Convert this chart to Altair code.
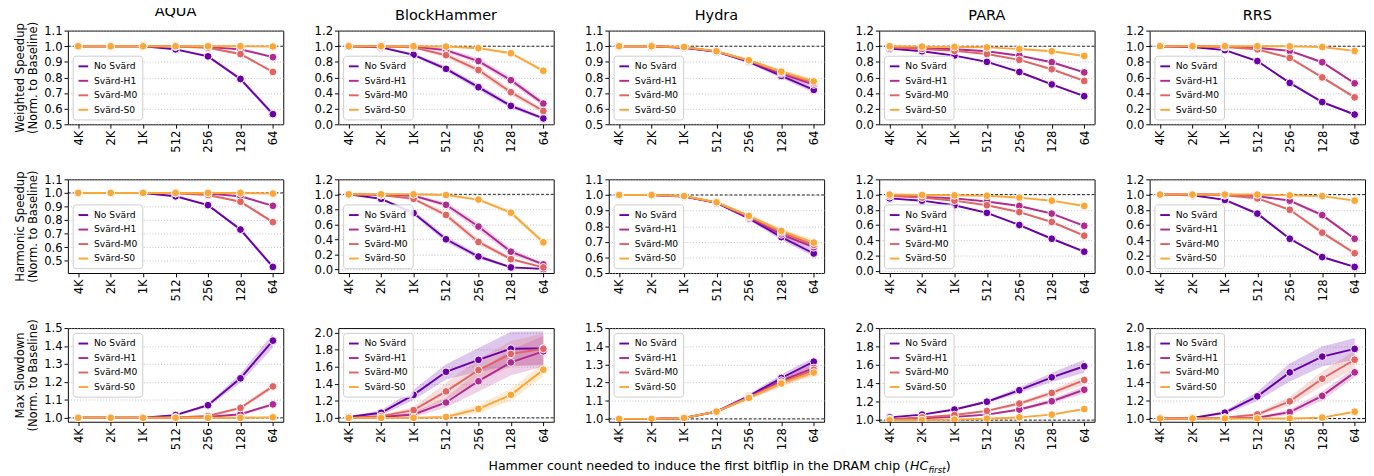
import altair as alt
import pandas as pd

mechanisms = ["AQUA", "BlockHammer", "Hydra", "PARA", "RRS"]
configs = ["No Svärd", "Svärd-H1", "Svärd-M0", "Svärd-S0"]
hc_labels = ["4K", "2K", "1K", "512", "256", "128", "64"]
colors = ["#6a00a8", "#b12a90", "#e16462", "#fca636"]

metric_titles = [
    ["Weighted Speedup", "(Norm. to Baseline)"],
    ["Harmonic Speedup", "(Norm. to Baseline)"],
    ["Max Slowdown", "(Norm. to Baseline)"],
]
xtitle_parts = ["Hammer count needed to induce the first bitflip in the DRAM chip (", "HC", "first", ")"]

# ---- Weighted speedup (series order: No Svärd, H1, M0, S0) ----
ws = {
    "AQUA": [[1.0, 1.0, 1.0, 0.98, 0.935, 0.79, 0.565],
             [1.0, 1.0, 1.0, 1.0, 0.995, 0.98, 0.93],
             [1.0, 1.0, 1.0, 0.998, 0.99, 0.95, 0.835],
             [1.0, 1.0, 1.0, 1.0, 1.0, 1.0, 0.998]],
    "BlockHammer": [[1.0, 0.985, 0.89, 0.71, 0.475, 0.235, 0.075],
                    [1.0, 1.0, 0.995, 0.95, 0.81, 0.565, 0.265],
                    [1.0, 0.995, 0.985, 0.885, 0.695, 0.41, 0.17],
                    [1.0, 1.0, 1.0, 0.995, 0.975, 0.91, 0.685]],
    "Hydra": [[1.0, 1.0, 0.99, 0.965, 0.9, 0.81, 0.72],
              [1.0, 1.0, 0.992, 0.966, 0.905, 0.825, 0.755],
              [1.0, 1.0, 0.993, 0.967, 0.908, 0.832, 0.765],
              [1.0, 1.0, 0.995, 0.968, 0.91, 0.837, 0.775]],
    "PARA": [[0.97, 0.935, 0.88, 0.8, 0.67, 0.51, 0.36],
             [0.99, 0.975, 0.96, 0.935, 0.88, 0.795, 0.665],
             [0.985, 0.965, 0.94, 0.9, 0.825, 0.705, 0.555],
             [1.0, 0.995, 0.99, 0.985, 0.965, 0.935, 0.875]],
    "RRS": [[1.0, 0.99, 0.95, 0.81, 0.53, 0.285, 0.125],
            [1.0, 1.0, 0.995, 0.98, 0.94, 0.795, 0.525],
            [1.0, 1.0, 0.99, 0.96, 0.85, 0.6, 0.345],
            [1.0, 1.0, 1.0, 1.0, 0.998, 0.99, 0.94]],
}
ws_ci = {
    "AQUA": [[0, 0, 0.002, 0.005, 0.008, 0.012, 0.015],
             [0, 0, 0, 0.002, 0.003, 0.005, 0.008],
             [0, 0, 0, 0.002, 0.004, 0.008, 0.012],
             [0, 0, 0, 0, 0, 0.002, 0.003]],
    "BlockHammer": [[0, 0.01, 0.02, 0.03, 0.035, 0.03, 0.02],
                    [0, 0.005, 0.01, 0.025, 0.035, 0.04, 0.035],
                    [0, 0.005, 0.015, 0.03, 0.04, 0.04, 0.03],
                    [0, 0, 0.005, 0.01, 0.015, 0.02, 0.025]],
    "Hydra": [[0, 0, 0.003, 0.005, 0.01, 0.015, 0.018],
              [0, 0, 0.003, 0.005, 0.01, 0.015, 0.018],
              [0, 0, 0.003, 0.005, 0.01, 0.015, 0.018],
              [0, 0, 0.002, 0.004, 0.008, 0.012, 0.015]],
    "PARA": [[0.005, 0.005, 0.008, 0.01, 0.01, 0.012, 0.012],
             [0.003, 0.005, 0.006, 0.008, 0.01, 0.012, 0.014],
             [0.003, 0.005, 0.006, 0.008, 0.01, 0.012, 0.014],
             [0.002, 0.003, 0.004, 0.005, 0.006, 0.008, 0.01]],
    "RRS": [[0, 0.005, 0.01, 0.012, 0.015, 0.015, 0.012],
            [0, 0, 0.005, 0.008, 0.012, 0.015, 0.018],
            [0, 0, 0.005, 0.01, 0.015, 0.018, 0.018],
            [0, 0, 0, 0.002, 0.004, 0.006, 0.01]],
}

# ---- Harmonic speedup ----
hs = {
    "AQUA": [[1.0, 1.0, 1.0, 0.975, 0.91, 0.73, 0.455],
             [1.0, 1.0, 1.0, 1.0, 0.995, 0.975, 0.905],
             [1.0, 1.0, 1.0, 0.998, 0.985, 0.935, 0.785],
             [1.0, 1.0, 1.0, 1.0, 1.0, 1.0, 0.995]],
    "BlockHammer": [[1.0, 0.94, 0.75, 0.4, 0.17, 0.025, 0.005],
                    [1.0, 0.99, 0.98, 0.86, 0.57, 0.235, 0.065],
                    [1.0, 0.99, 0.94, 0.725, 0.365, 0.135, 0.025],
                    [1.0, 1.0, 1.0, 0.99, 0.93, 0.755, 0.36]],
    "Hydra": [[1.0, 1.0, 0.99, 0.95, 0.85, 0.73, 0.625],
              [1.0, 1.0, 0.991, 0.951, 0.857, 0.748, 0.665],
              [1.0, 1.0, 0.992, 0.952, 0.862, 0.76, 0.68],
              [1.0, 1.0, 0.993, 0.953, 0.866, 0.77, 0.695]],
    "PARA": [[0.95, 0.92, 0.86, 0.76, 0.6, 0.42, 0.25],
             [0.99, 0.97, 0.95, 0.91, 0.85, 0.75, 0.59],
             [0.98, 0.96, 0.92, 0.86, 0.77, 0.64, 0.46],
             [1.0, 0.995, 0.99, 0.985, 0.96, 0.92, 0.85]],
    "RRS": [[1.0, 0.99, 0.93, 0.75, 0.42, 0.18, 0.05],
            [1.0, 1.0, 1.0, 0.98, 0.92, 0.73, 0.42],
            [1.0, 1.0, 0.99, 0.95, 0.8, 0.5, 0.23],
            [1.0, 1.0, 1.0, 1.0, 0.99, 0.98, 0.92]],
}
hs_ci = {
    "AQUA": [[0, 0, 0.002, 0.005, 0.008, 0.012, 0.015],
             [0, 0, 0, 0.002, 0.003, 0.005, 0.008],
             [0, 0, 0, 0.002, 0.004, 0.008, 0.012],
             [0, 0, 0, 0, 0, 0.002, 0.003]],
    "BlockHammer": [[0, 0.01, 0.03, 0.04, 0.03, 0.01, 0.005],
                    [0, 0.005, 0.01, 0.035, 0.05, 0.04, 0.02],
                    [0, 0.005, 0.02, 0.04, 0.04, 0.025, 0.01],
                    [0, 0, 0.005, 0.01, 0.02, 0.03, 0.03]],
    "Hydra": [[0, 0, 0.003, 0.006, 0.012, 0.018, 0.02],
              [0, 0, 0.003, 0.006, 0.012, 0.018, 0.02],
              [0, 0, 0.003, 0.006, 0.012, 0.018, 0.02],
              [0, 0, 0.003, 0.005, 0.01, 0.015, 0.018]],
    "PARA": [[0.005, 0.005, 0.008, 0.01, 0.01, 0.012, 0.012],
             [0.003, 0.005, 0.006, 0.008, 0.01, 0.012, 0.014],
             [0.003, 0.005, 0.006, 0.008, 0.01, 0.012, 0.014],
             [0.002, 0.003, 0.004, 0.005, 0.006, 0.008, 0.01]],
    "RRS": [[0, 0.005, 0.012, 0.02, 0.02, 0.015, 0.01],
            [0, 0, 0.005, 0.01, 0.02, 0.025, 0.02],
            [0, 0, 0.008, 0.015, 0.02, 0.025, 0.02],
            [0, 0, 0, 0.002, 0.004, 0.008, 0.012]],
}

# ---- Max slowdown ----
ms = {
    "AQUA": [[1.0, 1.0, 1.0, 1.015, 1.07, 1.22, 1.43],
             [1.0, 1.0, 1.0, 1.0, 1.005, 1.02, 1.075],
             [1.0, 1.0, 1.0, 1.002, 1.01, 1.055, 1.175],
             [1.0, 1.0, 1.0, 1.0, 1.0, 1.0, 1.003]],
    "BlockHammer": [[1.01, 1.06, 1.27, 1.54, 1.68, 1.81, 1.815],
                    [1.0, 1.01, 1.04, 1.18, 1.43, 1.65, 1.78],
                    [1.0, 1.02, 1.09, 1.31, 1.56, 1.75, 1.81],
                    [1.0, 1.0, 1.0, 1.01, 1.105, 1.27, 1.565]],
    "Hydra": [[1.0, 1.0, 1.005, 1.04, 1.125, 1.225, 1.315],
              [1.0, 1.0, 1.005, 1.04, 1.12, 1.21, 1.28],
              [1.0, 1.0, 1.005, 1.04, 1.118, 1.2, 1.27],
              [1.0, 1.0, 1.005, 1.04, 1.115, 1.195, 1.255]],
    "PARA": [[1.03, 1.06, 1.115, 1.2, 1.325, 1.465, 1.585],
             [1.01, 1.02, 1.035, 1.06, 1.115, 1.205, 1.33],
             [1.01, 1.03, 1.055, 1.1, 1.18, 1.295, 1.435],
             [1.0, 1.0, 1.005, 1.015, 1.03, 1.06, 1.12]],
    "RRS": [[1.0, 1.005, 1.065, 1.245, 1.51, 1.685, 1.77],
            [1.0, 1.0, 1.005, 1.01, 1.07, 1.25, 1.51],
            [1.0, 1.0, 1.01, 1.045, 1.19, 1.44, 1.65],
            [1.0, 1.0, 1.0, 1.0, 1.0, 1.01, 1.075]],
}
ms_ci = {
    "AQUA": [[0, 0, 0.002, 0.005, 0.01, 0.025, 0.04],
             [0, 0, 0, 0.002, 0.003, 0.005, 0.01],
             [0, 0, 0, 0.003, 0.005, 0.01, 0.015],
             [0, 0, 0, 0, 0, 0.001, 0.002]],
    "BlockHammer": [[0.01, 0.03, 0.06, 0.09, 0.14, 0.2, 0.2],
                    [0, 0.01, 0.03, 0.06, 0.12, 0.15, 0.18],
                    [0, 0.01, 0.04, 0.1, 0.13, 0.15, 0.18],
                    [0, 0, 0.005, 0.02, 0.05, 0.07, 0.08]],
    "Hydra": [[0, 0, 0.003, 0.006, 0.012, 0.02, 0.025],
              [0, 0, 0.003, 0.006, 0.012, 0.02, 0.025],
              [0, 0, 0.003, 0.006, 0.012, 0.02, 0.025],
              [0, 0, 0.003, 0.005, 0.01, 0.015, 0.02]],
    "PARA": [[0.005, 0.005, 0.01, 0.015, 0.03, 0.05, 0.07],
             [0.003, 0.005, 0.008, 0.01, 0.015, 0.025, 0.04],
             [0.003, 0.005, 0.008, 0.012, 0.02, 0.03, 0.05],
             [0, 0.002, 0.003, 0.005, 0.006, 0.008, 0.01]],
    "RRS": [[0, 0.005, 0.02, 0.05, 0.1, 0.11, 0.12],
            [0, 0, 0.005, 0.01, 0.03, 0.05, 0.05],
            [0, 0, 0.01, 0.02, 0.05, 0.08, 0.1],
            [0, 0, 0, 0.002, 0.003, 0.005, 0.01]],
}

metrics = [(ws, ws_ci), (hs, hs_ci), (ms, ms_ci)]

# axis settings per row / panel
y_domains = [
    {"AQUA": [0.5, 1.1], "BlockHammer": [0.0, 1.2], "Hydra": [0.5, 1.1], "PARA": [0.0, 1.2], "RRS": [0.0, 1.2]},
    {"AQUA": [0.41, 1.1], "BlockHammer": [-0.05, 1.2], "Hydra": [0.5, 1.1], "PARA": [-0.03, 1.2], "RRS": [-0.03, 1.2]},
    {"AQUA": [0.978, 1.5], "BlockHammer": [0.954, 2.053], "Hydra": [0.984, 1.5], "PARA": [0.982, 2.0], "RRS": [0.964, 2.0]},
]
y_ticks = [
    {"AQUA": [0.5, 0.6, 0.7, 0.8, 0.9, 1.0, 1.1], "BlockHammer": [0, 0.2, 0.4, 0.6, 0.8, 1.0, 1.2],
     "Hydra": [0.5, 0.6, 0.7, 0.8, 0.9, 1.0, 1.1], "PARA": [0, 0.2, 0.4, 0.6, 0.8, 1.0, 1.2],
     "RRS": [0, 0.2, 0.4, 0.6, 0.8, 1.0, 1.2]},
    {"AQUA": [0.5, 0.6, 0.7, 0.8, 0.9, 1.0, 1.1], "BlockHammer": [0, 0.2, 0.4, 0.6, 0.8, 1.0, 1.2],
     "Hydra": [0.5, 0.6, 0.7, 0.8, 0.9, 1.0, 1.1], "PARA": [0, 0.2, 0.4, 0.6, 0.8, 1.0, 1.2],
     "RRS": [0, 0.2, 0.4, 0.6, 0.8, 1.0, 1.2]},
    {"AQUA": [1.0, 1.1, 1.2, 1.3, 1.4, 1.5], "BlockHammer": [1.0, 1.2, 1.4, 1.6, 1.8, 2.0],
     "Hydra": [1.0, 1.1, 1.2, 1.3, 1.4, 1.5], "PARA": [1.0, 1.2, 1.4, 1.6, 1.8, 2.0],
     "RRS": [1.0, 1.2, 1.4, 1.6, 1.8, 2.0]},
]
legend_orient = ["bottom-left", "bottom-left", "top-left"]

W, H = 223, 97
FONT = "DejaVu Sans"


def make_legend(r):
    return alt.Legend(orient=legend_orient[r], offset=5, title=None,
                      fillColor="rgba(255,255,255,0.85)",
                      strokeColor="#cccccc", cornerRadius=3,
                      padding=5, labelFontSize=9.5,
                      labelFont=FONT, symbolType="stroke",
                      symbolSize=100, symbolStrokeWidth=2, symbolOpacity=1,
                      rowPadding=4, labelOffset=5)


def panel(r, c):
    mech = mechanisms[c]
    vals, cis = metrics[r]
    rows = []
    for s, cfg in enumerate(configs):
        for i, hc in enumerate(hc_labels):
            v = vals[mech][s][i]
            e = cis[mech][s][i]
            rows.append({"hc": hc, "config": cfg, "v": v, "lo": v - e, "hi": v + e})
    df = pd.DataFrame(rows)

    xenc = alt.X("hc:N", sort=hc_labels,
                 scale=alt.Scale(type="point", padding=0.32),
                 axis=alt.Axis(title=None, labelAngle=-90, grid=False))
    yscale = alt.Scale(domain=y_domains[r][mech], nice=False, zero=False)
    yaxis = alt.Axis(values=y_ticks[r][mech], format=".1f",
                     title=metric_titles[r] if c == 0 else None,
                     grid=True)
    cscale = alt.Scale(domain=configs, range=colors)
    cenc = alt.Color("config:N", scale=cscale, title=None, legend=make_legend(r))

    base = alt.Chart(df)
    band = base.mark_area(opacity=0.22, clip=True).encode(
        x=xenc, y=alt.Y("lo:Q", scale=yscale, axis=yaxis), y2="hi:Q", color=cenc)
    line = base.mark_line(strokeWidth=2, clip=True).encode(
        x=xenc, y=alt.Y("v:Q", scale=yscale, axis=yaxis), color=cenc)
    pts = base.mark_circle(size=65, opacity=1, stroke="white", strokeWidth=1, clip=True).encode(
        x=xenc, y=alt.Y("v:Q", scale=yscale, axis=yaxis), color=cenc)
    rule = alt.Chart(pd.DataFrame({"b": [1.0]})).mark_rule(
        color="black", strokeDash=[3, 2], strokeWidth=0.9).encode(
        y=alt.Y("b:Q", scale=yscale, axis=yaxis))

    ch = alt.layer(rule, band, line, pts).properties(width=W, height=H)
    if r == 0:
        ch = ch.properties(title=alt.TitleParams(mech, fontSize=15, fontWeight="normal",
                                                 font=FONT, offset=2, color="black",
                                                 frame="group"))
    return ch


# bottom shared x-axis title (with italic subscript)
X0 = 871
TW = 1300
tdf = pd.DataFrame({"t": xtitle_parts})
t1 = alt.Chart(tdf).transform_filter(alt.datum.t == xtitle_parts[0]).mark_text(
    align="right", baseline="alphabetic", fontSize=13, font=FONT, color="black").encode(
    text="t:N", x=alt.value(X0), y=alt.value(12))
t2 = alt.Chart(tdf).transform_filter(alt.datum.t == xtitle_parts[1]).mark_text(
    align="left", baseline="alphabetic", fontSize=13, font=FONT, fontStyle="italic", color="black").encode(
    text="t:N", x=alt.value(X0 + 1), y=alt.value(12))
t3 = alt.Chart(tdf).transform_filter(alt.datum.t == xtitle_parts[2]).mark_text(
    align="left", baseline="alphabetic", fontSize=9, font=FONT, fontStyle="italic", color="black").encode(
    text="t:N", x=alt.value(X0 + 20), y=alt.value(15))
t4 = alt.Chart(tdf).transform_filter(alt.datum.t == xtitle_parts[3]).mark_text(
    align="left", baseline="alphabetic", fontSize=13, font=FONT, color="black").encode(
    text="t:N", x=alt.value(X0 + 38), y=alt.value(12))
title_row = alt.layer(t1, t2, t3, t4).properties(
    width=TW, height=10, view=alt.ViewConfig(stroke=None))

rows = []
for r in range(3):
    row = alt.hconcat(*[panel(r, c) for c in range(5)], spacing=30).resolve_scale(
        color="independent", y="independent", x="independent").resolve_legend(color="independent")
    rows.append(row)

grid = alt.vconcat(*rows, spacing=16).resolve_scale(
    color="independent", y="independent", x="independent").resolve_legend(color="independent")

chart = alt.vconcat(grid, title_row, spacing=8).resolve_scale(
    color="independent", y="independent", x="independent").resolve_legend(color="independent")

chart = chart.properties(padding={"left": 5, "top": -13, "right": 0, "bottom": 0}).configure(
    font=FONT
).configure_view(
    stroke="black", strokeWidth=1
).configure_axis(
    labelFont=FONT, labelFontSize=12, labelColor="black",
    titleFont=FONT, titleFontSize=12, titleFontWeight="normal", titleColor="black",
    tickColor="black", tickSize=4, tickWidth=1, domain=False, labelPadding=2,
    gridColor="#b0b0b0", gridDash=[1, 2], gridWidth=0.8
)

chart.save("out.html", embed_options={"renderer": "svg", "actions": False})
